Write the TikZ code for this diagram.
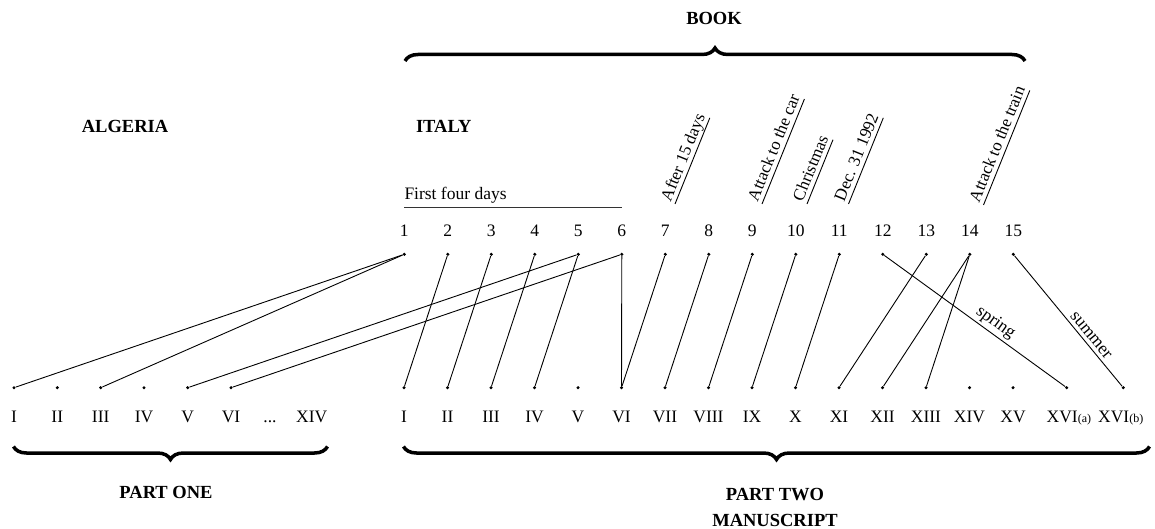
\documentclass[tikz,border=0pt]{standalone}
\usepackage{fontspec}
\setmainfont{Liberation Serif}
\usetikzlibrary{decorations.pathreplacing}
\tikzset{
  lbl/.style={font=\fontsize{17.5}{20}\selectfont, inner sep=0pt},
  head/.style={font=\fontsize{18.5}{22}\selectfont\bfseries, inner sep=0pt, anchor=base},
  dot/.style={circle, fill=black, inner sep=0pt, minimum size=3.4pt},
  conn/.style={line width=0.9pt},
  bracestyle/.style={decorate, decoration={brace, amplitude=13pt}, line width=3.5pt},
  tag/.style={font=\fontsize{17}{20}\selectfont, inner sep=0pt, text depth=4.5pt, rotate=68, anchor=south west},
  uline/.style={line width=0.9pt},
  seglbl/.style={font=\fontsize{17.5}{20}\selectfont, sloped, above, inner sep=2.5pt},
}
\begin{document}
\begin{tikzpicture}[x=1pt,y=-1pt]
\useasboundingbox (0,0) rectangle (1155,529);

% headings
\node[head] (book) at (714,25) {BOOK};
\node[head] (algeria) at (125,132.7) {ALGERIA};
\node[head] (italy) at (443.8,132.7) {ITALY};
\node[head] (partone) at (166,498) {PART ONE};
\node[head] (parttwo) at (775,500) {PART TWO};
\node[head] (manuscript) at (775,526) {MANUSCRIPT};

% braces
\coordinate (bookL) at (405,61);
\coordinate (bookR) at (1025,61);
\draw[bracestyle] (bookL) -- (bookR);
\coordinate (oneL) at (13.5,446.5);
\coordinate (oneR) at (327.5,446.5);
\draw[bracestyle] (oneR) -- (oneL);
\coordinate (twoL) at (403.5,446.5);
\coordinate (twoR) at (1149.5,446.5);
\draw[bracestyle] (twoR) -- (twoL);

% top numbers and dots
\foreach \i in {1,...,15} {
  \pgfmathsetmacro\xx{404.3+43.5*(\i-1)}
  \node[lbl,anchor=base] (n\i) at (\xx,236.7) {\i};
  \node[dot] (d\i) at (\xx,254.3) {};
}

% first four days
\node[lbl,anchor=base west] (ffd) at (404.3,200) {First four days};
\coordinate (ffL) at (404.3,207.3);
\coordinate (ffR) at (621.7,207.3);
\draw[line width=0.9pt, black!80] (ffL) -- (ffR);

% rotated underlined tags
\node[tag] (tg7) at (675,204) {After 15 days};
\node[tag] (tg9) at (762,204) {Attack to the car};
\node[tag] (tg10) at (807,204) {Christmas};
\node[tag] (tg11) at (848.5,204) {Dec. 31 1992};
\node[tag] (tg14) at (983.5,205) {Attack to the train};
\foreach \t in {tg7,tg9,tg10,tg11,tg14} {
  \draw[uline] (\t.south west) -- (\t.south east);
}

% left bottom (Algeria)
\foreach \x/\l/\n in {14/I/1, 57.3/II/2, 100.7/III/3, 144/IV/4, 187.7/V/5, 231/VI/6} {
  \node[dot] (a\n) at (\x,387.7) {};
  \node[lbl,anchor=base] (al\n) at (\x,422) {\l};
}
\node[lbl,anchor=base] (aldots) at (270,422) {...};
\node[lbl,anchor=base] (al14) at (311.7,422) {XIV};

% right bottom (Italy)
\foreach \x/\l/\n in {404/I/1, 447.5/II/2, 491/III/3, 534.5/IV/4, 578/V/5, 621.5/VI/6, 665/VII/7, 708.5/VIII/8, 752/IX/9, 795.5/X/10, 839/XI/11, 882.5/XII/12, 926/XIII/13, 969.5/XIV/14, 1013/XV/15} {
  \node[dot] (m\n) at (\x,387.7) {};
  \node[lbl,anchor=base] (ml\n) at (\x,422) {\l};
}
\node[dot] (m16a) at (1066.7,387.7) {};
\node[dot] (m16b) at (1123.3,387.7) {};
\node[lbl,anchor=base west] (ml16a) at (1046.5,422) {XVI{\fontsize{12}{12}\selectfont(a)}};
\node[lbl,anchor=base west] (ml16b) at (1098,422) {XVI{\fontsize{12}{12}\selectfont(b)}};

% connectors to Algeria
\draw[conn] (d1) -- (a1);
\draw[conn] (d1) -- (a3);
\draw[conn] (d5) -- (a5);
\draw[conn] (d6) -- (a6);

% connectors to Italy
\draw[conn] (d2) -- (m1);
\draw[conn] (d3) -- (m2);
\draw[conn] (d4) -- (m3);
\draw[conn] (d5) -- (m4);
\draw[conn] (d6) -- (m6);
\draw[conn] (d7) -- (m6);
\draw[conn] (d8) -- (m7);
\draw[conn] (d9) -- (m8);
\draw[conn] (d10) -- (m9);
\draw[conn] (d11) -- (m10);
\draw[conn] (d13) -- (m11);
\draw[conn] (d14) -- (m12);
\draw[conn] (d14) -- (m13);
\draw[conn] (d12) -- node[seglbl, pos=0.58] (spring) {spring} (m16a);
\draw[conn] (d15) -- node[seglbl, pos=0.65, inner sep=3.5pt] (summer) {summer} (m16b);
\end{tikzpicture}
\end{document}
